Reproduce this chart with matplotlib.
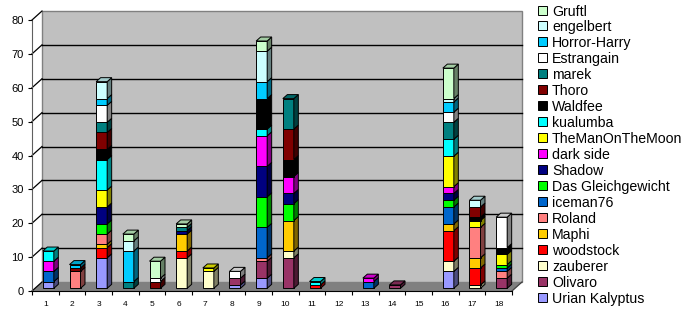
import matplotlib
matplotlib.use('Agg')
import matplotlib.pyplot as plt
from matplotlib.patches import Polygon, Rectangle
from matplotlib.transforms import offset_copy
from matplotlib.colors import to_rgb

plt.rcParams['font.family'] = ['Liberation Sans', 'DejaVu Sans']

categories = [str(i) for i in range(1, 19)]

urian_kalyptus    = [2, 0, 9, 0, 0, 0, 0, 1, 3, 0, 0, 0, 0, 0, 0, 5, 0, 0]
olivaro           = [0, 0, 0, 0, 0, 0, 0, 2, 5, 9, 0, 0, 0, 1, 0, 0, 0, 3]
zauberer          = [0, 0, 0, 0, 0, 9, 5, 0, 0, 2, 0, 0, 0, 0, 0, 3, 1, 0]
woodstock         = [0, 0, 3, 0, 0, 2, 0, 0, 0, 0, 1, 0, 0, 0, 0, 9, 5, 0]
maphi             = [0, 0, 1, 0, 0, 5, 0, 0, 0, 9, 0, 0, 0, 0, 0, 2, 3, 0]
roland            = [0, 5, 3, 0, 0, 0, 0, 0, 1, 0, 0, 0, 0, 0, 0, 0, 9, 2]
iceman76          = [3, 0, 0, 0, 0, 0, 0, 0, 9, 0, 0, 0, 2, 0, 0, 5, 0, 1]
das_gleichgewicht = [0, 0, 3, 0, 0, 0, 0, 0, 9, 5, 0, 0, 0, 0, 0, 2, 0, 1]
shadow            = [0, 0, 5, 0, 0, 1, 0, 0, 9, 3, 0, 0, 0, 0, 0, 2, 0, 0]
dark_side         = [3, 0, 0, 0, 0, 0, 0, 0, 9, 5, 0, 0, 1, 0, 0, 2, 0, 0]
themanonthemoon   = [0, 0, 5, 0, 0, 0, 1, 0, 0, 0, 0, 0, 0, 0, 0, 9, 2, 3]
kualumba          = [3, 0, 9, 0, 0, 0, 0, 0, 2, 0, 1, 0, 0, 0, 0, 5, 0, 0]
waldfee           = [0, 0, 3, 0, 0, 0, 0, 0, 9, 5, 0, 0, 0, 0, 0, 0, 1, 2]
thoro             = [0, 1, 5, 0, 2, 0, 0, 0, 0, 9, 0, 0, 0, 0, 0, 0, 3, 0]
marek             = [0, 0, 3, 2, 0, 1, 0, 0, 0, 9, 0, 0, 0, 0, 0, 5, 0, 0]
estrangain        = [0, 0, 5, 0, 1, 0, 0, 2, 0, 0, 0, 0, 0, 0, 0, 3, 0, 9]
horror_harry      = [0, 1, 2, 9, 0, 0, 0, 0, 5, 0, 0, 0, 0, 0, 0, 3, 0, 0]
engelbert         = [0, 0, 5, 3, 0, 0, 0, 0, 9, 0, 0, 0, 0, 0, 0, 1, 2, 0]
gruftl            = [0, 0, 0, 2, 5, 1, 0, 0, 3, 0, 0, 0, 0, 0, 0, 9, 0, 0]

series_names = ["Urian Kalyptus", "Olivaro", "zauberer", "woodstock", "Maphi",
                "Roland", "iceman76", "Das Gleichgewicht", "Shadow", "dark side",
                "TheManOnTheMoon", "kualumba", "Waldfee", "Thoro", "marek",
                "Estrangain", "Horror-Harry", "engelbert", "Gruftl"]
series_values = [urian_kalyptus, olivaro, zauberer, woodstock, maphi, roland,
                 iceman76, das_gleichgewicht, shadow, dark_side, themanonthemoon,
                 kualumba, waldfee, thoro, marek, estrangain, horror_harry,
                 engelbert, gruftl]
series_colors = ["#9999FF", "#993366", "#FFFFCC", "#FF0000", "#FFCC00",
                 "#FF8080", "#0066CC", "#00FF00", "#000080", "#FF00FF",
                 "#FFFF00", "#00FFFF", "#000000", "#800000", "#008080",
                 "#FFFFFF", "#00CCFF", "#CCFFFF", "#CCFFCC"]

W, H = 690, 314
fig = plt.figure(figsize=(W / 100, H / 100), dpi=100)
fig.patch.set_facecolor('white')

# front plane of the plot area (pixels)
x0, x1, yb, yt = 32, 512, 291, 20
ax = fig.add_axes([x0 / W, (H - yb) / H, (x1 - x0) / W, (yb - yt) / H])
ax.set_xlim(0.5, 18.5)
ax.set_ylim(0, 80)
ax.patch.set_visible(False)

px_cat = (x1 - x0) / 18.0
px_unit = (yb - yt) / 80.0

# depth of the 3D box
wall_dx, wall_dy = 10, 9
wdx = wall_dx / px_cat
wdy = wall_dy / px_unit

wall_tr = offset_copy(ax.transData, fig=fig, x=wall_dx, y=wall_dy, units='dots')

# back wall
ax.add_patch(Rectangle((0.5, 0), 18, 80, transform=wall_tr, facecolor='#C0C0C0',
                       edgecolor='#808080', lw=1.0, clip_on=False, zorder=0))
for v in range(10, 80, 10):
    ax.plot([0.5, 18.5], [v, v], transform=wall_tr, color='black', lw=1.0,
            clip_on=False, zorder=0.5)
# floor
ax.add_patch(Polygon([(0.5, 0), (18.5, 0), (18.5 + wdx, wdy), (0.5 + wdx, wdy)],
                     closed=True, facecolor='#808080', edgecolor='none',
                     clip_on=False, zorder=0.6))
# left wall diagonals
for v in range(0, 90, 10):
    ax.plot([0.5, 0.5 + wdx], [v, v + wdy], color='black', lw=0.9,
            clip_on=False, zorder=0.7)
ax.plot([18.5, 18.5 + wdx], [0, wdy], color='#404040', lw=0.9, clip_on=False, zorder=0.7)

# bars
bar_tr = offset_copy(ax.transData, fig=fig, x=3, y=2.7, units='dots')
bw = 11 / px_cat
bdx = 4.5 / px_cat
bdy = 4.0 / px_unit


def shade(c, f):
    r, g, b = to_rgb(c)
    return (r * f, g * f, b * f)


for i in range(len(categories)):
    xc = i + 1
    bottom = 0
    top_color = None
    for vals, col in zip(series_values, series_colors):
        v = vals[i]
        if v <= 0:
            continue
        ax.bar([xc], [v], bottom=[bottom], width=bw, color=col, edgecolor='black',
               linewidth=0.7, transform=bar_tr, clip_on=False, zorder=3)
        xr = xc + bw / 2
        ax.add_patch(Polygon([(xr, bottom), (xr + bdx, bottom + bdy),
                              (xr + bdx, bottom + v + bdy), (xr, bottom + v)],
                             closed=True, facecolor=shade(col, 0.5), edgecolor='black',
                             lw=0.7, transform=bar_tr, clip_on=False, zorder=3))
        bottom += v
        top_color = col
    if top_color is not None:
        xl = xc - bw / 2
        xr = xc + bw / 2
        ax.add_patch(Polygon([(xl, bottom), (xr, bottom), (xr + bdx, bottom + bdy),
                              (xl + bdx, bottom + bdy)],
                             closed=True, facecolor=shade(top_color, 0.8),
                             edgecolor='black', lw=0.7, transform=bar_tr,
                             clip_on=False, zorder=3))

ax.set_xlim(0.5, 18.5)
ax.set_ylim(0, 80)

# axes
for s in ['top', 'right']:
    ax.spines[s].set_visible(False)
ax.spines['left'].set_color('#606060')
ax.spines['bottom'].set_color('black')
ax.spines['left'].set_zorder(1)
ax.set_yticks(range(0, 90, 10))
ax.set_yticklabels([str(v) for v in range(0, 90, 10)], fontsize=8)
ax.tick_params(axis='y', length=3, width=0.8, pad=3, color='black')
ax.set_xticks(range(1, 19))
ax.set_xticklabels(categories, fontsize=6)
ax.set_xticks([k + 0.5 for k in range(0, 19)], minor=True)
ax.tick_params(axis='x', which='major', length=0, pad=7)
ax.tick_params(axis='x', which='minor', length=3, width=0.8, color='black')

# legend (manual, top item = last series)
row = 15.95
for k, (name, col) in enumerate(zip(series_names[::-1], series_colors[::-1])):
    yc = 10 + k * row
    fig.add_artist(Rectangle((538 / W, (H - yc - 4.5) / H), 9 / W, 9 / H,
                             transform=fig.transFigure, facecolor=col,
                             edgecolor='black', lw=0.7))
    fig.text(552 / W, (H - yc) / H, name, fontsize=10.2, va='center_baseline',
             ha='left', color='black')

fig.savefig('out.png', dpi=100)
